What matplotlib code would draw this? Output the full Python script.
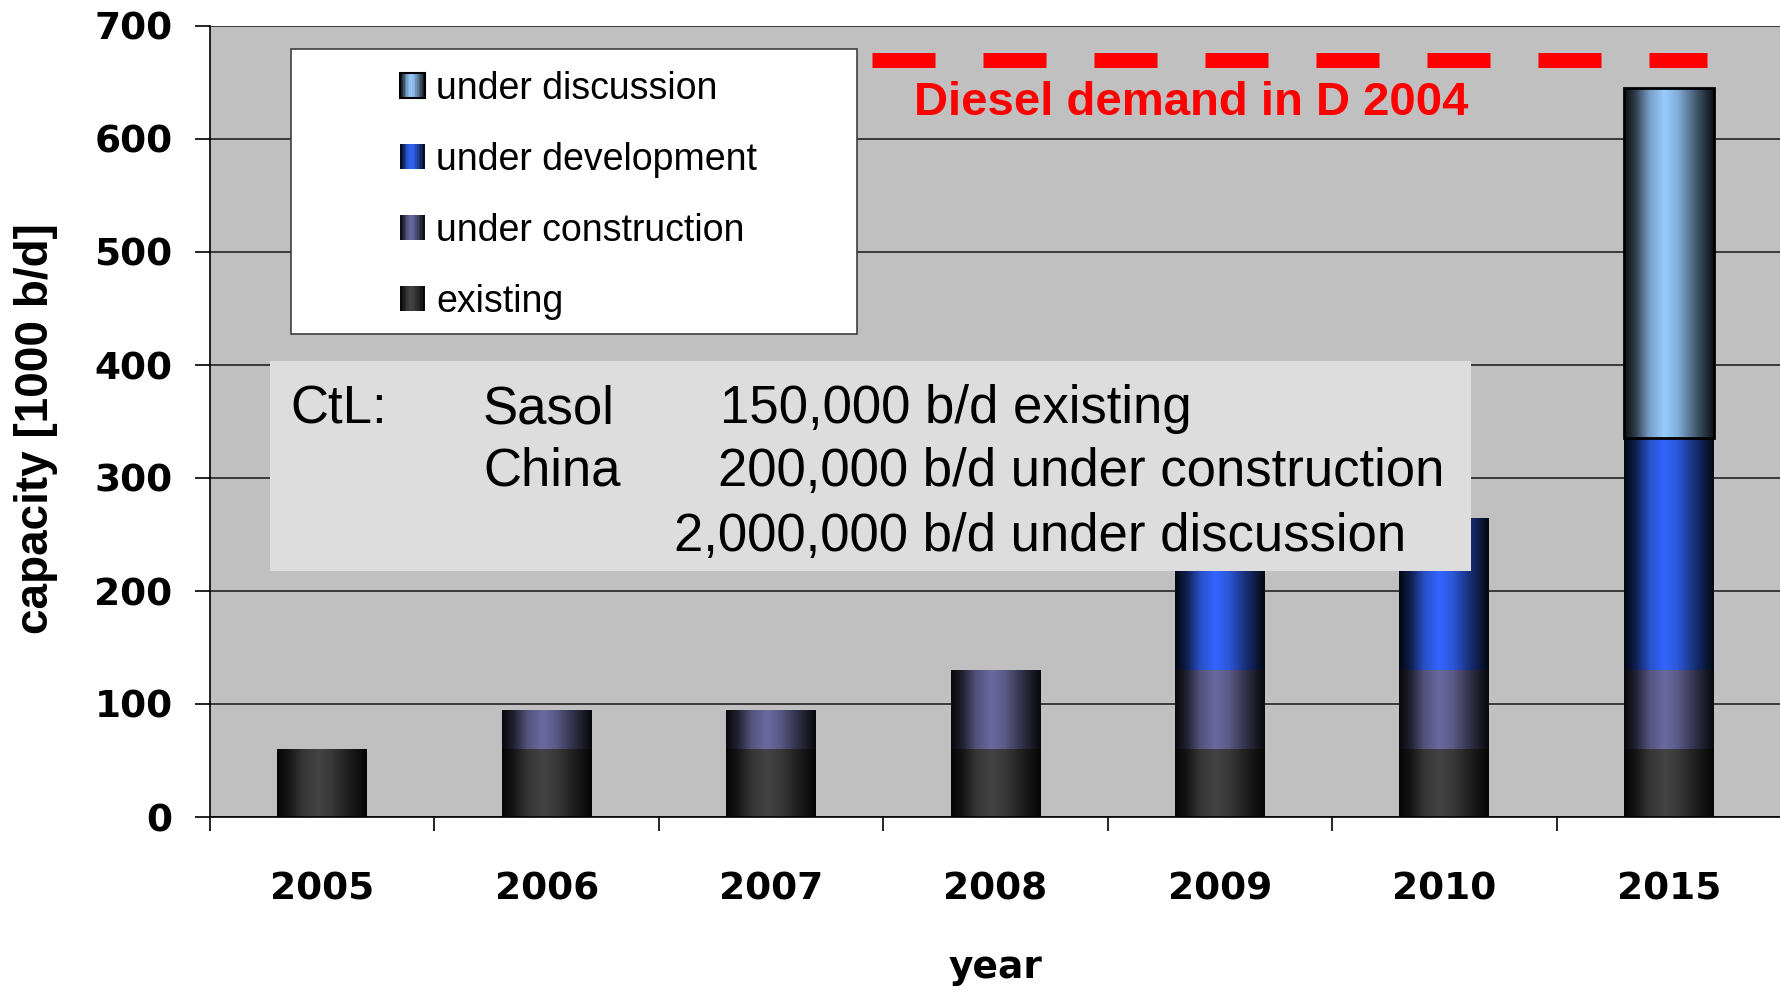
import numpy as np
import matplotlib
matplotlib.use("Agg")
import matplotlib.pyplot as plt
from matplotlib.patches import Rectangle, Patch
from matplotlib.legend_handler import HandlerBase
from matplotlib.colors import to_rgb

# ---------------- data ----------------
years = ["2005", "2006", "2007", "2008", "2009", "2010", "2015"]
existing = [60, 60, 60, 60, 60, 60, 60]
under_construction = [0, 35, 35, 70, 70, 70, 70]
under_development = [0, 0, 0, 0, 135, 135, 205]
under_discussion = [0, 0, 0, 0, 0, 0, 310]
series_names = ["existing", "under construction", "under development", "under discussion"]
series_colors = ["#444444", "#6A6AA0", "#3366FF", "#99CCFF"]
diesel_demand = 670
diesel_label = "Diesel demand in D 2004"
yticks = [0, 100, 200, 300, 400, 500, 600, 700]
info_lines = [
    ("CtL:", "Sasol", "150,000 b/d existing"),
    ("", "China", "200,000 b/d under construction"),
    ("", "", "2,000,000 b/d under discussion"),
]

W, H = 1781, 991
fig = plt.figure(figsize=(W / 100, H / 100), dpi=100)
fig.patch.set_facecolor("white")

def fx(x):
    return x / W

def fy(y):
    return 1 - y / H

ax = fig.add_axes([fx(210), fy(817), (1781 - 210) / W, (817 - 26) / H])
ax.set_facecolor("#C0C0C0")
ax.set_xlim(-0.5, 6.5)
ax.set_ylim(0, 700)

# shading profile (cylinder look)
prof_t = [0.0, 0.12, 0.28, 0.45, 0.6, 0.8, 1.0]
prof_f = [0.08, 0.3, 0.78, 1.0, 0.85, 0.45, 0.08]

def shade(base, t):
    f = np.interp(t, prof_t, prof_f)
    return tuple(np.clip(np.array(to_rgb(base)) * f, 0, 1))

def gradient_image(base, n=64):
    t = np.linspace(0, 1, n)
    return np.array([[shade(base, ti) for ti in t]])

x = np.arange(len(years))
width = 0.4
bottom = np.zeros(len(years))
all_series = [existing, under_construction, under_development, under_discussion]
for vals, name, col in zip(all_series, series_names, series_colors):
    vals = np.array(vals, dtype=float)
    edge = "black" if name == "under discussion" else "none"
    bars = ax.bar(x, vals, width, bottom=bottom, color="none", edgecolor="none", zorder=3)
    for rect, v in zip(bars, vals):
        if v <= 0:
            continue
        x0, y0 = rect.get_x(), rect.get_y()
        im = ax.imshow(gradient_image(col), extent=(x0, x0 + rect.get_width(), y0, y0 + rect.get_height()),
                       aspect="auto", interpolation="bilinear", zorder=2.5)
        im.set_clip_path(rect)
        if edge != "none":
            ax.add_patch(Rectangle((x0, y0), rect.get_width(), rect.get_height(), fill=False,
                                   edgecolor="black", lw=2, zorder=3.2))
    bottom += vals

ax.set_xlim(-0.5, 6.5)
ax.set_ylim(0, 700)

# grid
ax.set_yticks(yticks)
ax.yaxis.grid(True, color="#3a3a3a", lw=1.4)
ax.set_axisbelow(True)
for s in ["top", "right"]:
    ax.spines[s].set_visible(False)
ax.spines["left"].set_color("black")
ax.spines["bottom"].set_color("black")
ax.spines["left"].set_linewidth(1.2)
ax.spines["bottom"].set_linewidth(1.2)

ax.tick_params(axis="y", length=11, width=1.2, direction="out", pad=16, labelsize=27)
for lab in ax.get_yticklabels():
    lab.set_fontfamily("DejaVu Sans")
    lab.set_fontweight("bold")

ax.set_xticks(x)
ax.set_xticklabels(years, fontfamily="DejaVu Sans", fontweight="bold", fontsize=27)
ax.set_xticks(np.arange(-0.5, 7.0, 1.0), minor=True)
ax.tick_params(axis="x", which="major", length=0, pad=39)
ax.tick_params(axis="x", which="minor", length=10, width=1.2, direction="out")

ax.set_xlabel("year", fontfamily="DejaVu Sans", fontweight="bold", fontsize=27)
ax.xaxis.set_label_coords(0.5003, (817 - 968) / 791)
ax.xaxis.label.set_va("center")
ax.set_ylabel("capacity [1000 b/d]", fontfamily="Liberation Sans", fontweight="bold", fontsize=33)
ax.yaxis.set_label_coords((36 - 210) / 1571, (817 - 429) / 791)
ax.yaxis.label.set_va("center")
ax.yaxis.label.set_ha("center")

# diesel demand line
ax.plot([2.45, 6.17], [diesel_demand, diesel_demand], color="#FF0000", lw=10.8,
        dashes=(4.2, 3.2), solid_capstyle="butt", dash_capstyle="butt", zorder=4)
ax.text(fx(1191), fy(103), diesel_label, transform=fig.transFigure, ha="center", va="center",
        color="#FF0000", fontsize=34, fontweight="bold", fontfamily="Liberation Sans", zorder=6)

# legend frame
ax.add_patch(Rectangle((fx(291), fy(334)), fx(857) - fx(291), fy(49) - fy(334),
                       transform=fig.transFigure, facecolor="white", edgecolor="#404040",
                       lw=1.2, zorder=5))

class GradHandler(HandlerBase):
    def create_artists(self, legend, orig_handle, xdescent, ydescent, width, height, fontsize, trans):
        base = orig_handle.get_facecolor()
        n = 16
        arts = []
        for i in range(n):
            c = shade(base, (i + 0.5) / n)
            arts.append(Rectangle((-xdescent + width * i / n, -ydescent), width / n * 1.05, height,
                                  facecolor=c, edgecolor="none", transform=trans))
        if orig_handle.get_label() == "under discussion":
            arts.append(Rectangle((-xdescent, -ydescent), width, height, fill=False,
                                  edgecolor="black", lw=1.5, transform=trans))
        return arts

handles = [Patch(facecolor=c, label=n) for n, c in zip(series_names, series_colors)][::-1]
leg = ax.legend(handles=handles, labels=[h.get_label() for h in handles],
                handler_map={Patch: GradHandler()}, loc="upper left",
                bbox_to_anchor=(fx(400), fy(71)), bbox_transform=fig.transFigure,
                frameon=False, borderpad=0, borderaxespad=0, handlelength=0.66,
                handleheight=0.66, handletextpad=0.3, labelspacing=0.93,
                prop={"family": "Liberation Sans", "size": 27})
leg.set_zorder(6)

# info box
ax.add_patch(Rectangle((fx(270), fy(571)), fx(1471) - fx(270), fy(361) - fy(571),
                       transform=fig.transFigure, facecolor="#DDDDDD", edgecolor="none", zorder=5))
line_y = [409, 472, 537]
col_x = [290, 483]
num_x = [720, 718, 674]
for (a, b, c), yy, nx in zip(info_lines, line_y, num_x):
    for txt, xx in zip((a, b, c), (col_x[0], col_x[1], nx)):
        if txt:
            ax.text(fx(xx), fy(yy), txt, transform=fig.transFigure, ha="left", va="center",
                    fontsize=38, fontfamily="Liberation Sans", color="black", zorder=6)

fig.savefig("out.png", dpi=100)
